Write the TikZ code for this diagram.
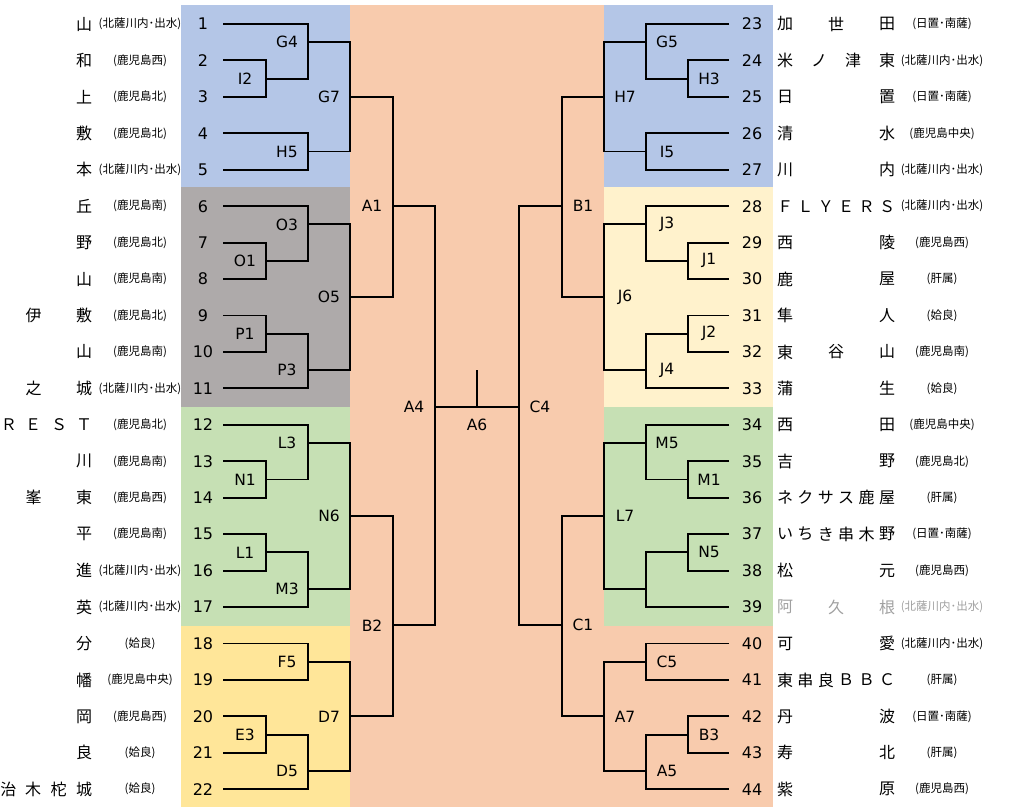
\documentclass[tikz,border=0pt]{standalone}
\usepackage{fontspec}
\setmainfont{DejaVu Sans}
\newfontfamily\jpf{Noto Sans CJK JP}
\definecolor{cblue}{HTML}{B4C6E7}
\definecolor{cgray}{HTML}{AEAAAA}
\definecolor{cgreen}{HTML}{C6E0B4}
\definecolor{cgold}{HTML}{FFE699}
\definecolor{cyel}{HTML}{FFF2CC}
\definecolor{cpeach}{HTML}{F8CBAD}
\definecolor{cdim}{HTML}{A0A0A0}
\newcommand\brk[3]{\draw[bline] (#2) -- (#2 -| #1) -- (#3 -| #1) -- (#3);}
\newcommand\labL[1]{\node[lab] (n#1) at ([xshift=-21pt]#1) {#1};}
\newcommand\labR[1]{\node[lab] (n#1) at ([xshift=21pt]#1) {#1};}
\begin{document}
\begin{tikzpicture}[x=1pt, y={(0pt,-18.22pt)},
  bline/.style={line width=1.9pt, black},
  num/.style={font=\fontsize{16}{18}\selectfont, inner sep=0pt},
  lab/.style={font=\fontsize{15.5}{18}\selectfont, inner sep=0pt},
  jp/.style={font=\jpf\fontsize{16}{18}\selectfont, inner sep=0pt},
  reg/.style={font=\jpf\fontsize{11.5}{13}\selectfont, inner sep=0pt}]
\useasboundingbox (0,-1.317) rectangle (1014,42.975);
% backgrounds
\fill[cblue] (181,-1.05) rectangle (350,8.95);
\fill[cgray] (181,8.95) rectangle (350,21);
\fill[cgreen] (181,21) rectangle (350,33.02);
\fill[cgold] (181,33.02) rectangle (350,42.975);
\fill[cpeach] (350,-1.05) rectangle (604,42.975);
\fill[cblue] (604,-1.05) rectangle (773,8.95);
\fill[cyel] (604,8.95) rectangle (773,21);
\fill[cgreen] (604,21) rectangle (773,33.02);
\fill[cpeach] (604,33.02) rectangle (773,42.975);
% team line ends
\foreach \i in {1,...,22} \coordinate (t\i) at (223,{2*(\i-1)});
\foreach \i in {23,...,44} \coordinate (t\i) at (729,{2*(\i-23)});
% left matches
\coordinate (I2) at (266,3);
\coordinate (G4) at (308,1);
\coordinate (H5) at (308,7);
\coordinate (G7) at (350,4);
\coordinate (O1) at (266,13);
\coordinate (O3) at (308,11);
\coordinate (P1) at (266,17);
\coordinate (P3) at (308,19);
\coordinate (O5) at (350,15);
\coordinate (A1) at (393,10);
\coordinate (N1) at (266,25);
\coordinate (L3) at (308,23);
\coordinate (L1) at (266,29);
\coordinate (M3) at (308,31);
\coordinate (N6) at (350,27);
\coordinate (F5) at (308,35);
\coordinate (E3) at (266,39);
\coordinate (D5) at (308,41);
\coordinate (D7) at (350,38);
\coordinate (B2) at (393,33);
\coordinate (A4) at (435,21);
% right matches
\coordinate (H3) at (688,3);
\coordinate (G5) at (646,1);
\coordinate (I5) at (646,7);
\coordinate (H7) at (604,4);
\coordinate (J1) at (688,13);
\coordinate (J3) at (646,11);
\coordinate (J2) at (688,17);
\coordinate (J4) at (646,19);
\coordinate (J6) at (604,15);
\coordinate (B1) at (562,10);
\coordinate (M1) at (688,25);
\coordinate (M5) at (646,23);
\coordinate (N5) at (688,29);
\coordinate (X7) at (646,31);
\coordinate (L7) at (604,27);
\coordinate (C5) at (646,35);
\coordinate (B3) at (688,39);
\coordinate (A5) at (646,41);
\coordinate (A7) at (604,38);
\coordinate (C1) at (562,33);
\coordinate (C4) at (519,21);
\coordinate (A6) at (477,21);
\coordinate (A6top) at (477,19);
% left brackets
\brk{I2}{t2}{t3}
\brk{G4}{t1}{I2}
\brk{H5}{t4}{t5}
\brk{G7}{G4}{H5}
\brk{O1}{t7}{t8}
\brk{O3}{t6}{O1}
\brk{P1}{t9}{t10}
\brk{P3}{P1}{t11}
\brk{O5}{O3}{P3}
\brk{A1}{G7}{O5}
\brk{N1}{t13}{t14}
\brk{L3}{t12}{N1}
\brk{L1}{t15}{t16}
\brk{M3}{L1}{t17}
\brk{N6}{L3}{M3}
\brk{F5}{t18}{t19}
\brk{E3}{t20}{t21}
\brk{D5}{E3}{t22}
\brk{D7}{F5}{D5}
\brk{B2}{N6}{D7}
\brk{A4}{A1}{B2}
% right brackets
\brk{H3}{t24}{t25}
\brk{G5}{t23}{H3}
\brk{I5}{t26}{t27}
\brk{H7}{G5}{I5}
\brk{J1}{t29}{t30}
\brk{J3}{t28}{J1}
\brk{J2}{t31}{t32}
\brk{J4}{J2}{t33}
\brk{J6}{J3}{J4}
\brk{B1}{H7}{J6}
\brk{M1}{t35}{t36}
\brk{M5}{t34}{M1}
\brk{N5}{t37}{t38}
\brk{X7}{N5}{t39}
\brk{L7}{M5}{X7}
\brk{C5}{t40}{t41}
\brk{B3}{t42}{t43}
\brk{A5}{B3}{t44}
\brk{A7}{C5}{A5}
\brk{C1}{L7}{A7}
\brk{C4}{B1}{C1}
% final
\draw[bline] (A4) -- (C4);
\draw[bline] (A6) -- (A6top);
% match labels
\foreach \m in {I2,G4,H5,G7,O1,O3,P1,P3,O5,A1,N1,L3,L1,M3,N6,F5,E3,D5,D7,B2,A4} {\labL{\m}}
\foreach \m in {H3,G5,I5,H7,J1,J3,J2,J4,J6,B1,M1,M5,N5,L7,C5,B3,A5,A7,C1,C4} {\labR{\m}}
\node[lab] (nA6) at (477,22) {A6};
% numbers
\foreach \i in {1,...,22} \node[num] (num\i) at (203,{2*(\i-1)}) {\i};
\foreach \i in {23,...,44} \node[num] (num\i) at (752,{2*(\i-23)}) {\i};
% left names
\foreach \k/\x/\c [count=\j] in {0/84/山,2/84/和,4/84/上,6/84/敷,8/84/本,10/84/丘,12/84/野,14/84/山,
  16/33.5/伊,16/84/敷,18/84/山,20/33.5/之,20/84/城,
  22/9/Ｒ,22/33/Ｅ,22/59/Ｓ,22/84/Ｔ,24/84/川,26/33.5/峯,26/84/東,28/84/平,30/84/進,32/84/英,
  34/84/分,36/84/幡,38/84/岡,40/84/良,42/8.5/治,42/33/木,42/58.5/柁,42/84/城}
  \node[jp] (ln\j) at (\x,\k) {\c};
% left regions
\foreach \k/\r in {0/北薩川内･出水,2/鹿児島西,4/鹿児島北,6/鹿児島北,8/北薩川内･出水,10/鹿児島南,
  12/鹿児島北,14/鹿児島南,16/鹿児島北,18/鹿児島南,20/北薩川内･出水,22/鹿児島北,24/鹿児島南,
  26/鹿児島西,28/鹿児島南,30/北薩川内･出水,32/北薩川内･出水,34/姶良,36/鹿児島中央,38/鹿児島西,
  40/姶良,42/姶良}
  \node[reg] (lr\k) at (140,\k) {(\r)};
% right names
\foreach \k/\n/\cs in {0/3/{加,世,田},2/4/{米,ノ,津,東},4/2/{日,置},6/2/{清,水},8/2/{川,内},
  10/6/{Ｆ,Ｌ,Ｙ,Ｅ,Ｒ,Ｓ},12/2/{西,陵},14/2/{鹿,屋},16/2/{隼,人},18/3/{東,谷,山},20/2/{蒲,生},
  22/2/{西,田},24/2/{吉,野},26/6/{ネ,ク,サ,ス,鹿,屋},28/6/{い,ち,き,串,木,野},30/2/{松,元},
  34/2/{可,愛},36/6/{東,串,良,Ｂ,Ｂ,Ｃ},38/2/{丹,波},40/2/{寿,北},42/2/{紫,原}}
  {\foreach \c [count=\j from 0] in \cs
    \node[jp] (rn\k-\j) at ({785+\j*102/(\n-1)},\k) {\c};}
\foreach \c [count=\j from 0] in {阿,久,根}
  \node[jp, text=cdim] (rn32-\j) at ({785+\j*51},32) {\c};
% right regions
\foreach \k/\r in {0/日置･南薩,2/北薩川内･出水,4/日置･南薩,6/鹿児島中央,8/北薩川内･出水,
  10/北薩川内･出水,12/鹿児島西,14/肝属,16/姶良,18/鹿児島南,20/姶良,22/鹿児島中央,24/鹿児島北,
  26/肝属,28/日置･南薩,30/鹿児島西,34/北薩川内･出水,36/肝属,38/日置･南薩,40/肝属,42/鹿児島西}
  \node[reg] (rr\k) at (942,\k) {(\r)};
\node[reg, text=cdim] (rr32) at (942,32) {(北薩川内･出水)};
\end{tikzpicture}
\end{document}
